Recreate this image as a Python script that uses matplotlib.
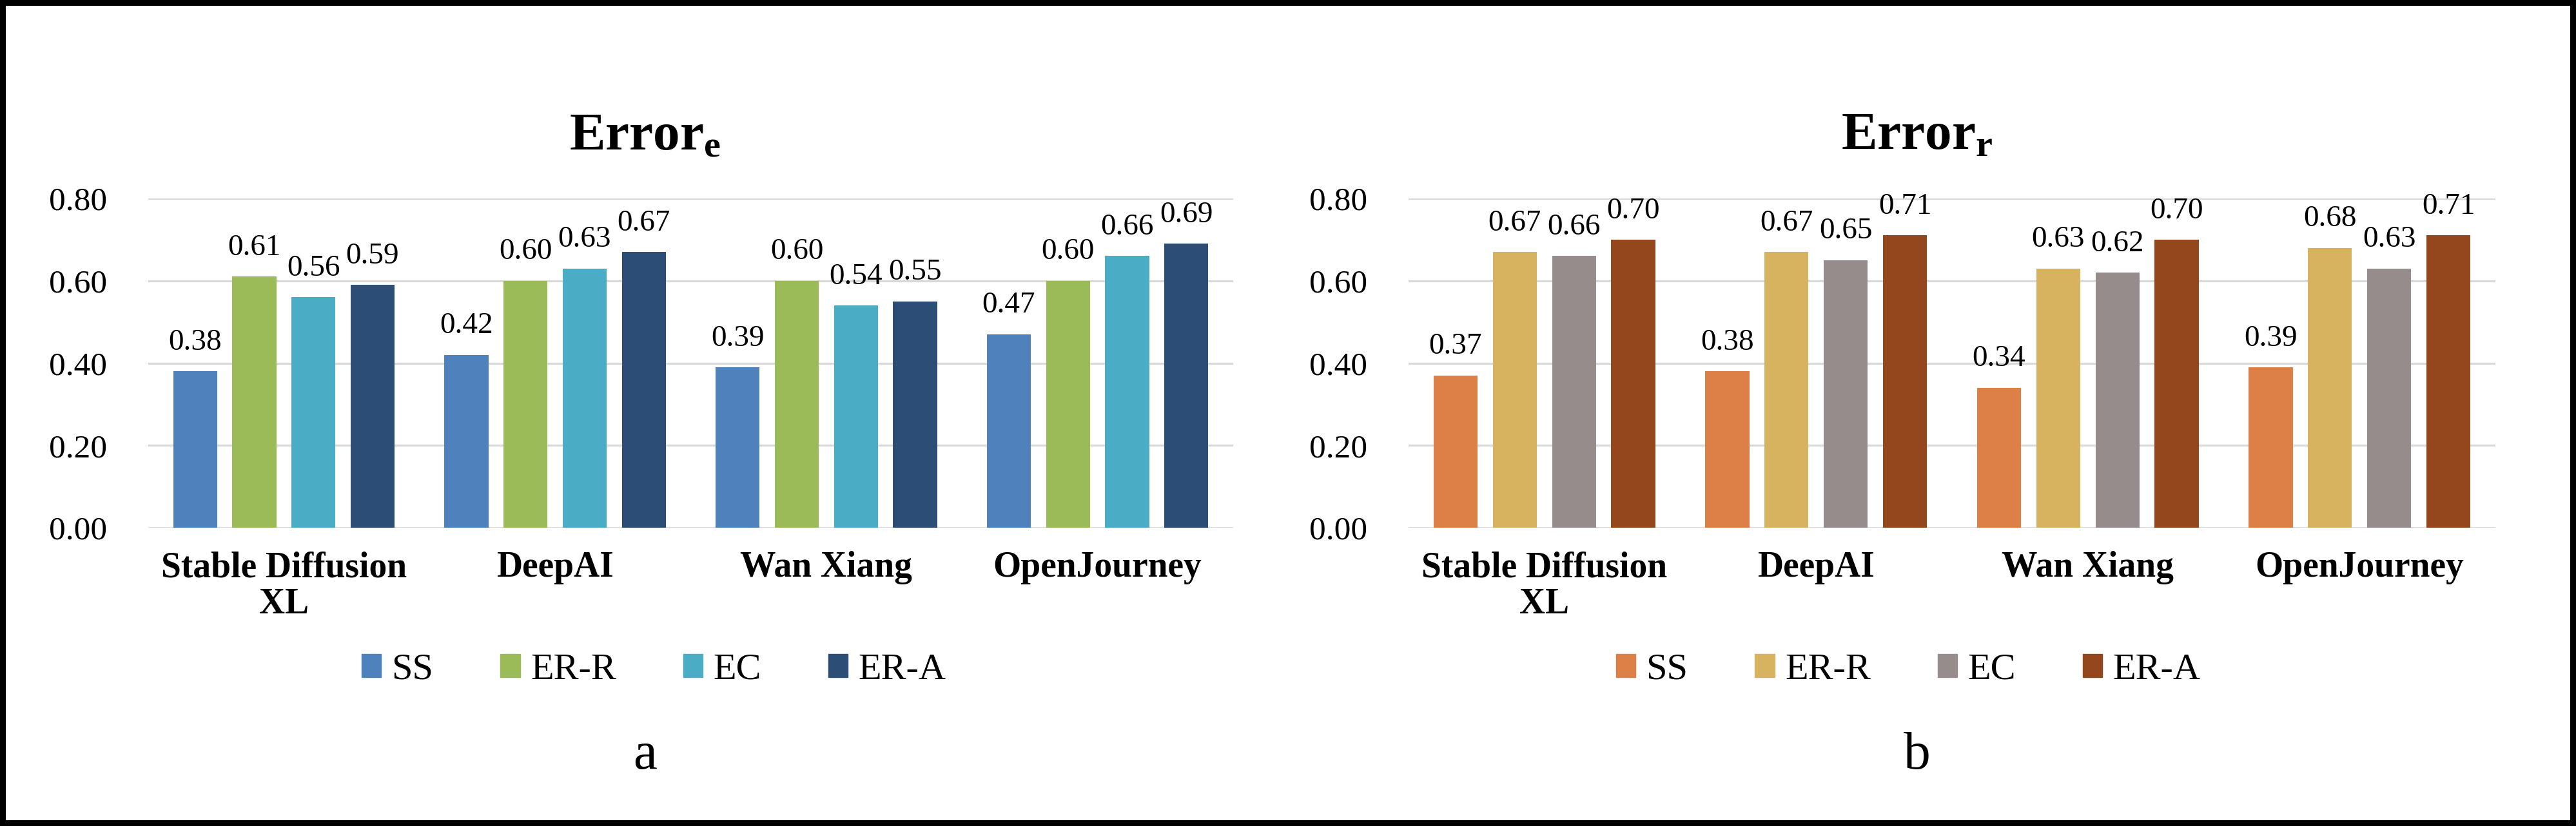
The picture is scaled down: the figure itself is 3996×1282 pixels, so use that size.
import matplotlib
matplotlib.use("Agg")
import matplotlib.pyplot as plt
import numpy as np
from matplotlib.patches import Patch, Rectangle

plt.rcParams['font.family'] = ['Liberation Serif', 'DejaVu Serif']
plt.rcParams['mathtext.fontset'] = 'custom'
plt.rcParams['mathtext.rm'] = 'Liberation Serif'
plt.rcParams['mathtext.bf'] = 'Liberation Serif:bold'

categories = ["Stable Diffusion\nXL", "DeepAI", "Wan Xiang", "OpenJourney"]
series = ["SS", "ER-R", "EC", "ER-A"]

# panel a: Error_e
err_e_ss = [0.38, 0.42, 0.39, 0.47]
err_e_err = [0.61, 0.60, 0.60, 0.60]
err_e_ec = [0.56, 0.63, 0.54, 0.66]
err_e_era = [0.59, 0.67, 0.55, 0.69]

# panel b: Error_r
err_r_ss = [0.37, 0.38, 0.34, 0.39]
err_r_err = [0.67, 0.67, 0.63, 0.68]
err_r_ec = [0.66, 0.65, 0.62, 0.63]
err_r_era = [0.70, 0.71, 0.70, 0.71]

yticks = [0.0, 0.2, 0.4, 0.6, 0.8]

colors_a = ["#4F81BD", "#9BBB59", "#4BACC6", "#2C4D75"]
colors_b = ["#DD8047", "#D7B25F", "#968C8C", "#94471C"]

fig = plt.figure(figsize=(39.96, 12.82), dpi=100)


def draw_panel(rect, data, colors, title, title_x, tag, legend_x):
    ax = fig.add_axes(rect)
    x = np.arange(len(categories))
    step = 0.218
    width = 0.162
    for i, (vals, col) in enumerate(zip(data, colors)):
        bars = ax.bar(x + (i - 1.5) * step, vals, width, color=col, zorder=3)
        for b, v in zip(bars, vals):
            ax.annotate(f"{v:.2f}", (b.get_x() + b.get_width() / 2, v),
                        xytext=(0, 24), textcoords="offset points",
                        ha="center", va="baseline", fontsize=34)
    ax.set_xlim(-0.5, len(categories) - 0.5)
    ax.set_ylim(0, 0.8)
    ax.set_yticks(yticks)
    ax.set_yticklabels([f"{t:.2f}" for t in yticks], fontsize=37)
    ax.set_xticks(x)
    ax.set_xticklabels(categories, fontsize=40, fontweight="bold", linespacing=1.13)
    ax.tick_params(axis="y", length=0, pad=46)
    ax.tick_params(axis="x", length=0, pad=26)
    ax.grid(axis="y", color="#D9D9D9", linewidth=2.3, zorder=0)
    for s in ax.spines.values():
        s.set_visible(False)
    fig.text(title_x, 1 - 232 / 1282, title, ha="center", va="baseline", fontsize=60)
    fig.text(title_x, 1 - 1193 / 1282, tag, ha="center", va="baseline", fontsize=60)
    handles = [Patch(color=c, label=s) for c, s in zip(colors, series)]
    fig.legend(handles=handles, loc="center", bbox_to_anchor=(legend_x, 1 - 1040 / 1282),
               ncol=4, frameon=False, fontsize=42, handlelength=0.52, handleheight=0.57,
               handletextpad=0.28, columnspacing=1.78)
    return ax


draw_panel([230 / 3996, 1 - 819 / 1282, 1683 / 3996, 511 / 1282],
           [err_e_ss, err_e_err, err_e_ec, err_e_era], colors_a,
           r"$\mathbf{Error_e}$", 1001 / 3996, "a", 1014 / 3996)
draw_panel([2185 / 3996, 1 - 819 / 1282, 1686 / 3996, 511 / 1282],
           [err_r_ss, err_r_err, err_r_ec, err_r_era], colors_b,
           r"$\mathbf{Error_r}$", 2974 / 3996, "b", 2960 / 3996)

# outer black frame
fig.patches.append(Rectangle((0, 0), 1, 1, transform=fig.transFigure, fill=False,
                             edgecolor="black", linewidth=13, zorder=10))

fig.savefig("out.png", dpi=100)
